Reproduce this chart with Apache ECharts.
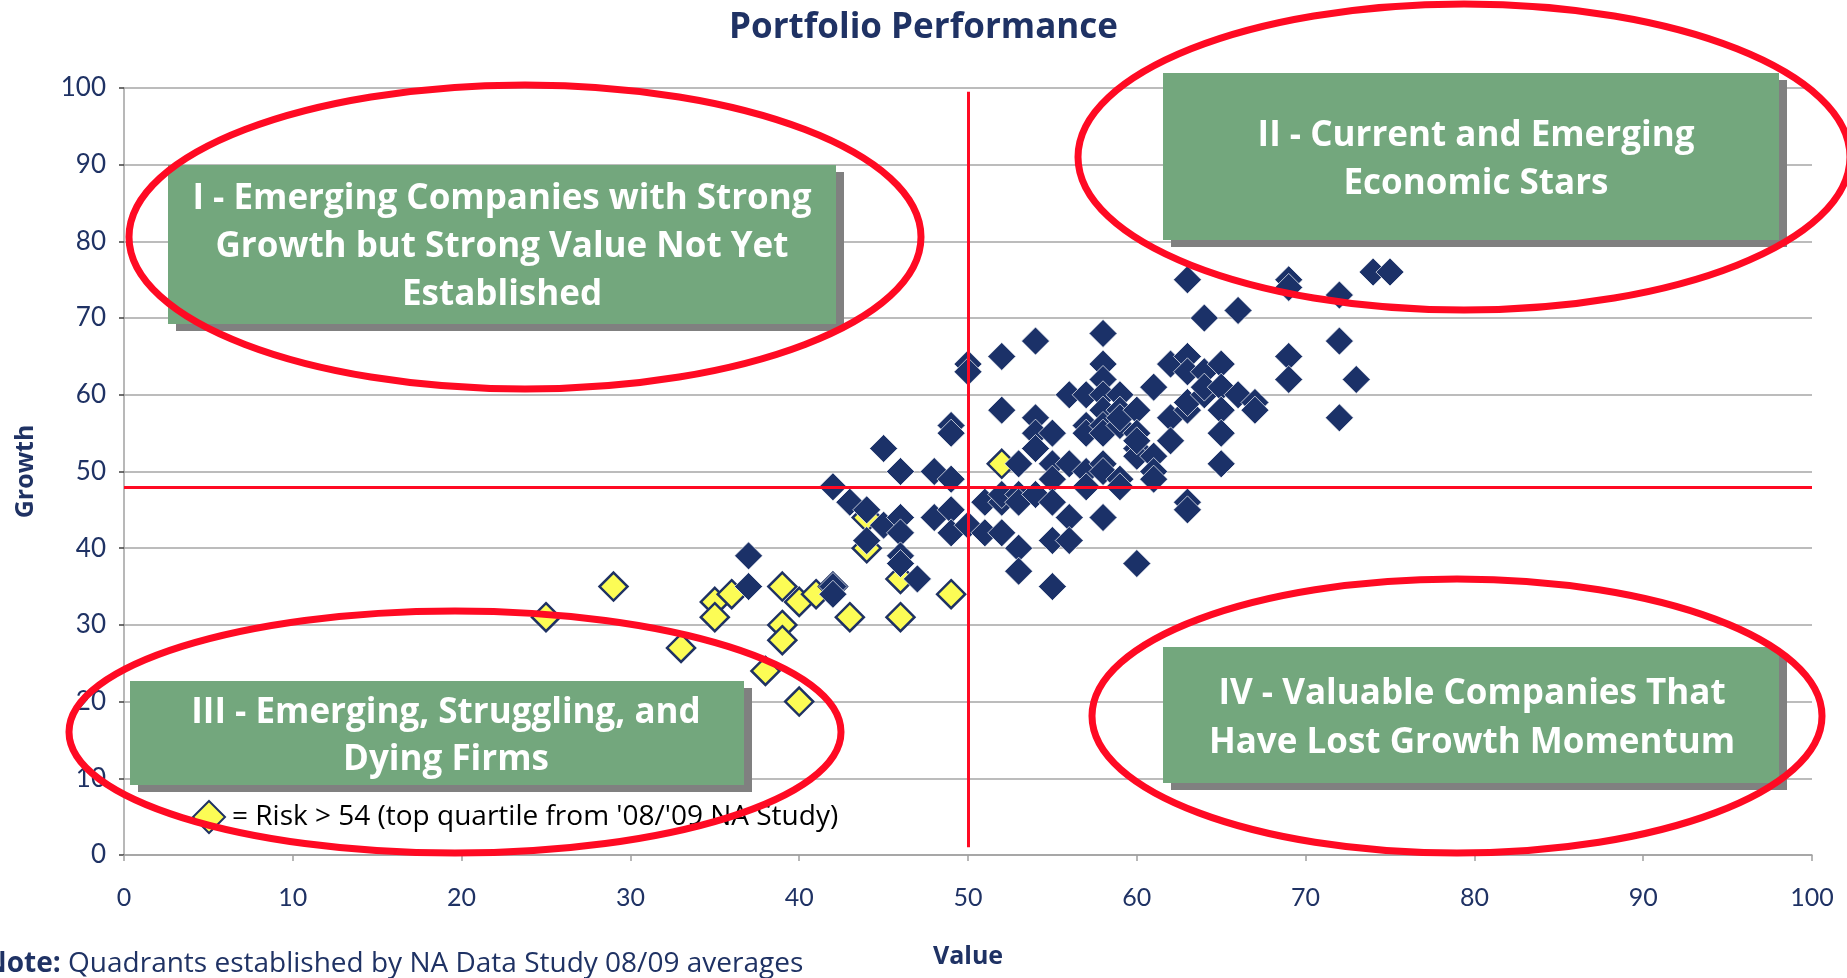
<!DOCTYPE html>
<html>
<head>
<meta charset="utf-8">
<title>Portfolio Performance</title>
<script src="https://cdn.jsdelivr.net/npm/echarts@6/dist/echarts.min.js"></script>
<style>
    html, body { margin: 0; padding: 0; background: #fff; }
    #portfolio_scatter { width: 1847px; height: 978px; }
</style>
</head>
<body>
<div id="portfolio_scatter"></div>
<script>

// Portfolio points, [value, growth]
var portfolioPoints = [
    [37, 39], [37, 35], [42, 48], [42, 35], [42, 34], [43, 46], [44, 45], [44, 41], [45, 43], [46, 44],
    [46, 42], [46, 39], [46, 38], [46, 50], [45, 53], [47, 36], [48, 50], [48, 44], [49, 56], [49, 55],
    [49, 49], [49, 45], [49, 42], [50, 64], [50, 63], [50, 43], [51, 46], [51, 42], [52, 65], [52, 58],
    [52, 46], [52, 42], [52, 47], [53, 51], [53, 47], [53, 40], [53, 37], [53, 46], [54, 67], [54, 57],
    [54, 55], [54, 53], [54, 47], [55, 55], [55, 51], [55, 49], [55, 46], [55, 41], [55, 35], [56, 60],
    [56, 51], [56, 44], [56, 41], [57, 60], [57, 56], [57, 55], [57, 50], [57, 48], [58, 68], [58, 64],
    [58, 62], [58, 60], [58, 58], [58, 56], [58, 55], [58, 51], [58, 50], [58, 44], [59, 60], [59, 58],
    [59, 56], [59, 57], [59, 49], [59, 48], [60, 58], [60, 55], [60, 53], [60, 52], [60, 54], [60, 38],
    [61, 61], [61, 52], [61, 50], [61, 49], [62, 64], [62, 57], [62, 54], [63, 75], [63, 65], [63, 63],
    [63, 58], [63, 59], [63, 46], [63, 45], [64, 70], [64, 63], [64, 60], [64, 61], [65, 64], [65, 61],
    [65, 58], [65, 55], [65, 51], [66, 71], [66, 60], [67, 59], [67, 58], [69, 75], [69, 74], [69, 65],
    [69, 62], [72, 73], [72, 67], [72, 57], [73, 62], [74, 76], [75, 76]
];

// Risk > 54 points, [value, growth]
var riskPoints = [
    [25, 31], [29, 35], [33, 27], [35, 33], [35, 31], [36, 34], [38, 24], [39, 35], [39, 30], [39, 28],
    [40, 33], [40, 20], [41, 34], [42, 35], [43, 31], [44, 44], [44, 40], [46, 36], [46, 31], [49, 34],
    [52, 51]
];

// Quadrant split (NA Data Study 08/09 averages)
var splitValue = 50;
var splitGrowth = 48;

// Axis ticks
var axisMin = 0;
var axisMax = 100;
var axisStep = 10;


// Define element
var scatter_element = document.getElementById('portfolio_scatter');

if (scatter_element) {

    // Initialize chart
    var scatter_chart = echarts.init(scatter_element);

    var navy = '#1F3264';
    var boxGreen = '#73A77D';
    var boxShadow = '#808080';
    var ringRed = '#FF0A23';
    var fontName = '"Open Sans", Lato, sans-serif';

    // Quadrant label box: shadow, box and centred text lines
    var quadrantBox = function (x, y, w, h, lines, textX, firstLineY, lineGap) {
        var items = [
            { type: 'rect', z: 50, shape: { x: x + 8, y: y + 7, width: w, height: h }, style: { fill: boxShadow } },
            { type: 'rect', z: 51, shape: { x: x, y: y, width: w, height: h }, style: { fill: boxGreen } }
        ];
        lines.forEach(function (line, i) {
            items.push({
                type: 'text', z: 52, x: textX, y: firstLineY + i * lineGap,
                style: {
                    text: line, fill: '#fff', fontSize: 35, fontWeight: 'bold', fontFamily: fontName,
                    align: 'center', verticalAlign: 'middle'
                }
            });
        });
        return items;
    };

    // Red rings round the quadrants
    var ring = function (cx, cy, rx, ry) {
        return {
            type: 'ellipse', z: 100, silent: true,
            shape: { cx: cx, cy: cy, rx: rx, ry: ry },
            style: { fill: 'none', stroke: ringRed, lineWidth: 7 }
        };
    };

    var graphics = []
        .concat(quadrantBox(168, 165, 668, 159,
            ['I - Emerging Companies with Strong', 'Growth but Strong Value Not Yet', 'Established'], 502, 199, 48))
        .concat(quadrantBox(1163, 73, 616, 167,
            ['II - Current and Emerging', 'Economic Stars'], 1476, 136, 48))
        .concat(quadrantBox(130, 681, 614, 104,
            ['III - Emerging, Struggling, and', 'Dying Firms'], 446, 713, 47))
        .concat(quadrantBox(1163, 647, 616, 136,
            ['IV - Valuable Companies That', 'Have Lost Growth Momentum'], 1472, 694, 49))
        .concat([
            ring(525, 237, 396, 152),
            ring(1464, 157, 386, 153),
            ring(455, 732, 386, 121),
            ring(1457, 716, 365, 137),
            {
                type: 'text', z: 60, x: -16, y: 964,
                style: {
                    text: '{b|Note:} Quadrants established by NA Data Study 08/09 averages',
                    fill: navy, fontSize: 28, fontFamily: fontName, verticalAlign: 'middle',
                    rich: { b: { fontWeight: 'bold', fontSize: 28, fill: navy, fontFamily: fontName } }
                }
            }
        ]);

    // Options
    scatter_chart.setOption({

        animation: false,

        // Global text styles
        textStyle: {
            fontFamily: fontName
        },

        // Title
        title: {
            text: 'Portfolio Performance',
            left: 'center',
            top: 6,
            textStyle: {
                fontSize: 35,
                fontWeight: 'bold',
                color: navy,
                fontFamily: fontName
            }
        },

        // Setup grid
        grid: {
            left: 124,
            right: 35,
            top: 88,
            bottom: 123
        },

        // Legend for the risk marker
        legend: {
            left: 187,
            top: 795,
            data: ['Risk > 54'],
            itemWidth: 32,
            itemHeight: 32,
            formatter: function () {
                return "= Risk > 54 (top quartile from '08/'09 NA Study)";
            },
            textStyle: {
                color: '#000',
                fontSize: 28,
                fontFamily: fontName,
                padding: [6, 0, 0, 2]
            }
        },

        // Horizontal axis
        xAxis: {
            type: 'value',
            min: axisMin,
            max: axisMax,
            interval: axisStep,
            name: 'Value',
            nameLocation: 'middle',
            nameGap: 89,
            nameTextStyle: {
                color: navy,
                fontSize: 25,
                fontWeight: 'bold'
            },
            axisLine: {
                lineStyle: { color: '#A0A0A0', width: 1.5 }
            },
            axisTick: {
                show: true,
                length: 6,
                lineStyle: { color: '#A0A0A0', width: 1.5 }
            },
            axisLabel: {
                color: navy,
                fontSize: 25,
                fontFamily: 'Lato, sans-serif',
                margin: 30
            },
            splitLine: { show: false }
        },

        // Vertical axis
        yAxis: {
            type: 'value',
            min: axisMin,
            max: axisMax,
            interval: axisStep,
            name: 'Growth',
            nameLocation: 'middle',
            nameGap: 86,
            nameTextStyle: {
                color: navy,
                fontSize: 25,
                fontWeight: 'bold'
            },
            axisLine: {
                show: true,
                lineStyle: { color: '#A0A0A0', width: 1.5 }
            },
            axisTick: {
                show: true,
                length: 5,
                lineStyle: { color: '#404040', width: 1.5 }
            },
            axisLabel: {
                color: navy,
                fontSize: 26,
                fontFamily: 'Lato, sans-serif',
                margin: 18
            },
            splitLine: {
                show: true,
                lineStyle: { color: '#A6A6A6', width: 1.5 }
            }
        },

        graphic: graphics,

        // Add series
        series: [
            {
                name: 'Risk > 54',
                type: 'scatter',
                symbol: 'diamond',
                symbolSize: 28,
                itemStyle: {
                    color: '#FCFC55',
                    borderColor: navy,
                    borderWidth: 2.5,
                    opacity: 1
                },
                data: riskPoints
            },
            {
                name: 'Portfolio',
                type: 'scatter',
                symbol: 'diamond',
                symbolSize: 28,
                itemStyle: {
                    color: '#1B3168',
                    borderColor: 'rgba(255,255,255,0.7)',
                    borderWidth: 1,
                    opacity: 1
                },
                data: portfolioPoints,
                markLine: {
                    silent: true,
                    symbol: 'none',
                    label: { show: false },
                    lineStyle: { color: ringRed, width: 3, type: 'solid' },
                    data: [
                        [{ coord: [splitValue, 1] }, { coord: [splitValue, 99.5] }],
                        [{ coord: [axisMin, splitGrowth] }, { coord: [axisMax, splitGrowth] }]
                    ]
                }
            }
        ]
    });

    // Resize function
    window.addEventListener('resize', function () {
        scatter_chart.resize();
    });
}
</script>
</body>
</html>
